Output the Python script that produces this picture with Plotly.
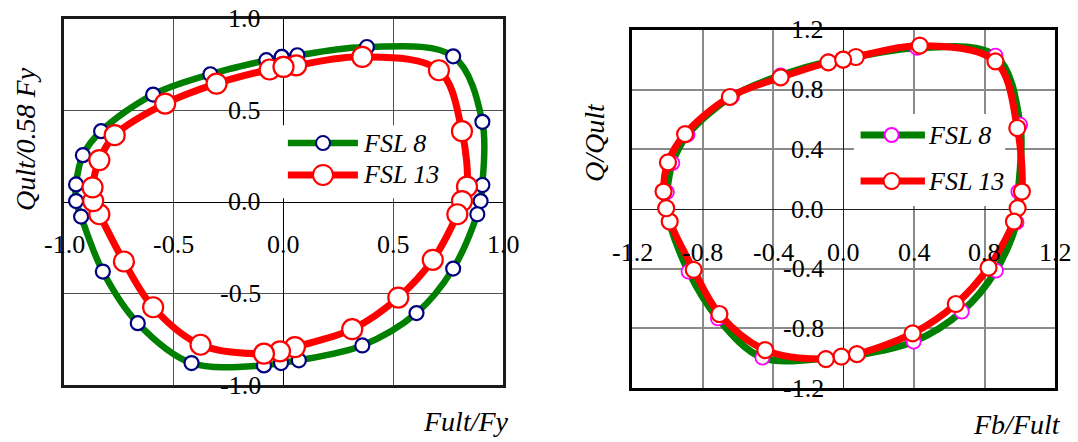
import plotly.graph_objects as go

W, H = 1078, 442

# ---- interaction diagrams: left = Fult/Fy vs Qult/0.58Fy, right = Fb/Fult vs Q/Qult ----
# left panel, FSL 8
L_FSL8_X = [-0.008, 0.063, 0.380, 0.773, 0.906, 0.906, 0.898, 0.883, 0.773, 0.606, 0.359,
            0.070, -0.011, -0.089, -0.419, -0.664, -0.823, -0.922, -0.945, -0.945, -0.914,
            -0.831, -0.594, -0.333, -0.078]
L_FSL8_Y = [0.793, 0.802, 0.847, 0.796, 0.438, 0.093, 0.005, -0.067, -0.364, -0.607, -0.784,
            -0.865, -0.880, -0.893, -0.880, -0.662, -0.380, -0.080, 0.005, 0.096, 0.256,
            0.387, 0.587, 0.698, 0.775]
# left panel, FSL 13
L_FSL13_X = [0.000, 0.058, 0.359, 0.708, 0.813, 0.836, 0.813, 0.792, 0.680, 0.523, 0.313,
             0.052, -0.016, -0.089, -0.378, -0.594, -0.727, -0.839, -0.867, -0.870, -0.839,
             -0.769, -0.539, -0.305, -0.063]
L_FSL13_Y = [0.738, 0.747, 0.793, 0.720, 0.387, 0.084, 0.005, -0.067, -0.316, -0.522, -0.695,
             -0.793, -0.816, -0.829, -0.780, -0.575, -0.325, -0.067, 0.005, 0.080, 0.229,
             0.365, 0.538, 0.647, 0.724]
# right panel, FSL 8
R_FSL8_X = [-0.002, 0.070, 0.417, 0.862, 1.002, 0.992, 0.986, 0.982, 0.865, 0.671, 0.398,
            0.076, -0.016, -0.100, -0.460, -0.713, -0.879, -0.990, -1.006, -1.002, -0.971,
            -0.885, -0.632, -0.357, -0.084]
R_FSL8_Y = [1.006, 1.020, 1.080, 1.028, 0.565, 0.117, 0.005, -0.090, -0.413, -0.688, -0.889,
            -0.980, -0.990, -1.000, -0.997, -0.733, -0.420, -0.084, 0.005, 0.113, 0.308,
            0.498, 0.755, 0.896, 0.990]
# right panel, FSL 13
R_FSL13_X = [-0.002, 0.070, 0.433, 0.862, 0.986, 1.012, 0.988, 0.967, 0.823, 0.637, 0.392,
             0.076, -0.012, -0.100, -0.444, -0.704, -0.850, -0.986, -1.006, -1.021, -0.996,
             -0.899, -0.645, -0.357, -0.086]
R_FSL13_Y = [1.001, 1.019, 1.095, 0.990, 0.543, 0.117, 0.006, -0.084, -0.393, -0.637, -0.834,
             -0.973, -0.990, -1.006, -0.946, -0.704, -0.408, -0.084, 0.005, 0.117, 0.312,
             0.502, 0.751, 0.882, 0.983]

SERIES_NAMES = ["FSL 8", "FSL 13"]

L_TICKS = [-1.0, -0.5, 0.0, 0.5, 1.0]
L_TICK_TEXT = ["-1.0", "-0.5", "0.0", "0.5", "1.0"]
R_TICKS = [-1.2, -0.8, -0.4, 0.0, 0.4, 0.8, 1.2]
R_TICK_TEXT = ["-1.2", "-0.8", "-0.4", "0.0", "0.4", "0.8", "1.2"]

GREEN = "#008000"
RED = "#FF0000"
NAVY = "#000080"
MAGENTA = "#FF00FF"
FONT = "Liberation Serif"


def closed(v):
    return list(v) + [v[0]]


fig = go.Figure()

panels = [
    ("x", "y", [(L_FSL8_X, L_FSL8_Y, GREEN, 6.5, 14, NAVY, 2.2),
                (L_FSL13_X, L_FSL13_Y, RED, 7, 20, RED, 2.2)]),
    ("x2", "y2", [(R_FSL8_X, R_FSL8_Y, GREEN, 7, 14, MAGENTA, 1.8),
                  (R_FSL13_X, R_FSL13_Y, RED, 7, 16, RED, 2.2)]),
]

for xa, ya, series in panels:
    for name, (xs, ys, lc, lw, ms, mc, mw) in zip(SERIES_NAMES, series):
        fig.add_trace(go.Scatter(
            x=closed(xs), y=closed(ys), name=name, xaxis=xa, yaxis=ya,
            mode="lines+markers",
            line=dict(color=lc, width=lw, shape="spline", smoothing=1.0),
            marker=dict(symbol="circle", size=ms, color="white",
                        line=dict(color=mc, width=mw)),
            showlegend=False, hoverinfo="skip",
        ))

# panel geometry (pixels)
LX0, LX1, LY0, LY1 = 64, 503, 19, 385
RX0, RX1, RY0, RY1 = 632, 1055, 30, 388


def common_axis(**kw):
    d = dict(showgrid=True, zeroline=True, showline=True, mirror=True,
             showticklabels=False, ticks="", fixedrange=True)
    d.update(kw)
    return d


fig.update_layout(
    width=W, height=H,
    margin=dict(l=0, r=0, t=0, b=0),
    paper_bgcolor="white", plot_bgcolor="white",
    showlegend=False,
    xaxis=common_axis(domain=[LX0 / W, LX1 / W], range=[-1, 1], tick0=0, dtick=0.5,
                      gridcolor="#505050", gridwidth=1.2, zerolinecolor="black",
                      zerolinewidth=1.2, linecolor="#1a1a1a", linewidth=2.5, anchor="y"),
    yaxis=common_axis(domain=[1 - LY1 / H, 1 - LY0 / H], range=[-1, 1], tick0=0, dtick=0.5,
                      gridcolor="#505050", gridwidth=1.2, zerolinecolor="black",
                      zerolinewidth=1.2, linecolor="#1a1a1a", linewidth=2.5, anchor="x"),
    xaxis2=common_axis(domain=[RX0 / W, RX1 / W], range=[-1.2, 1.2], tick0=0, dtick=0.4,
                       gridcolor="#8a8a8a", gridwidth=1.5, zerolinecolor="#202020",
                       zerolinewidth=1.3, linecolor="black", linewidth=2.5, anchor="y2"),
    yaxis2=common_axis(domain=[1 - RY1 / H, 1 - RY0 / H], range=[-1.2, 1.2], tick0=0, dtick=0.4,
                       gridcolor="#8a8a8a", gridwidth=1.5, zerolinecolor="#202020",
                       zerolinewidth=1.3, linecolor="black", linewidth=2.5, anchor="x2"),
)

annotations = []
shapes = []

tick_font = dict(family=FONT, size=26, color="black")
# tick labels sit next to the zero lines, inside the frame
for v, t in zip(L_TICKS, L_TICK_TEXT):
    annotations.append(dict(x=v, y=0, xref="x", yref="y", text=t, showarrow=False,
                            xanchor="center", yanchor="middle", yshift=-43, font=tick_font))
    annotations.append(dict(x=0, y=v, xref="x", yref="y", text=t, showarrow=False,
                            xanchor="right", yanchor="middle", xshift=-21, font=tick_font))
for v, t in zip(R_TICKS, R_TICK_TEXT):
    annotations.append(dict(x=v, y=0, xref="x2", yref="y2", text=t, showarrow=False,
                            xanchor="center", yanchor="middle", yshift=-43, font=tick_font))
    annotations.append(dict(x=0, y=v, xref="x2", yref="y2", text=t, showarrow=False,
                            xanchor="right", yanchor="middle", xshift=-18, font=tick_font))

title_font = dict(family=FONT, size=28, color="black")
annotations += [
    dict(x=466 / W, y=1 - 421 / H, xref="paper", yref="paper", text="<i>Fult/Fy</i>",
         showarrow=False, xanchor="center", yanchor="middle", font=title_font),
    dict(x=1017 / W, y=1 - 424 / H, xref="paper", yref="paper", text="<i>Fb/Fult</i>",
         showarrow=False, xanchor="center", yanchor="middle", font=title_font),
    dict(x=25 / W, y=1 - 139 / H, xref="paper", yref="paper", text="<i>Qult/0.58 Fy</i>",
         showarrow=False, textangle=-90, xanchor="center", yanchor="middle", font=title_font),
    dict(x=595 / W, y=1 - 143 / H, xref="paper", yref="paper", text="<i>Q/Qult</i>",
         showarrow=False, textangle=-90, xanchor="center", yanchor="middle", font=title_font),
]

# legends drawn inside each panel
legend_font = dict(family=FONT, size=26, color="black")
legends = [
    # xref, yref, box, line x-span, marker x, text x, rows (y, line colour, marker size, marker colour, width)
    ("x", "y", (-0.025, 0.02, 0.736, 0.42), (0.02, 0.339), 0.18, 0.355,
     [(0.322, GREEN, 14, NAVY, 6.5), (0.148, RED, 20, RED, 7)]),
    ("x2", "y2", (0.059, 0.02, 0.917, 0.637), (0.097, 0.462), 0.273, 0.47,
     [(0.496, GREEN, 14, MAGENTA, 7), (0.187, RED, 16, RED, 7)]),
]
for xr, yr, box, (lx0, lx1), mx, tx, rows in legends:
    shapes.append(dict(type="rect", xref=xr, yref=yr, x0=box[0], y0=box[1], x1=box[2], y1=box[3],
                       fillcolor="white", line=dict(width=0), layer="between"))
    for name, (ry, lc, ms, mc, lw) in zip(SERIES_NAMES, rows):
        shapes.append(dict(type="line", xref=xr, yref=yr, x0=lx0, x1=lx1, y0=ry, y1=ry,
                           line=dict(color=lc, width=lw), layer="above"))
        r = ms / 2
        shapes.append(dict(type="circle", xref=xr, yref=yr, xsizemode="pixel", ysizemode="pixel",
                           xanchor=mx, yanchor=ry, x0=-r, x1=r, y0=-r, y1=r,
                           fillcolor="white", line=dict(color=mc, width=2), layer="above"))
        annotations.append(dict(x=tx, y=ry, xref=xr, yref=yr, text=f"<i>{name}</i>",
                                showarrow=False, xanchor="left", yanchor="middle",
                                font=legend_font))

fig.update_layout(annotations=annotations, shapes=shapes)
fig.write_html("out.html")
